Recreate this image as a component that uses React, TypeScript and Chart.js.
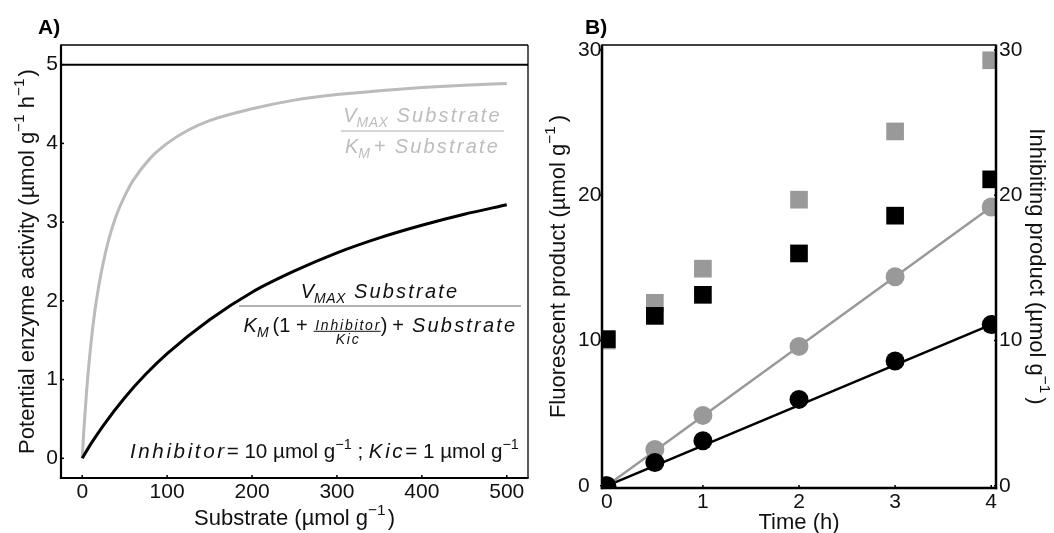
import React, { useEffect, useRef } from 'react';
import { Chart, registerables } from 'chart.js';

Chart.register(...registerables);

const FONT = '"Liberation Sans", Arial, Helvetica, sans-serif';

// ---------- Panel A data ----------
const substrateFree = [0, 2, 5, 10, 15, 20, 30, 40, 50, 60, 80, 100, 125, 150, 200, 250, 300, 350, 400, 450, 500];
const activityFree = [0, 0.37, 0.83, 1.43, 1.88, 2.22, 2.73, 3.08, 3.33, 3.53, 3.81, 4.0, 4.17, 4.29, 4.44, 4.55, 4.62, 4.67, 4.71, 4.74, 4.76];
const substrateInhibited = [0, 10, 25, 50, 75, 100, 150, 200, 250, 300, 350, 400, 450, 500];
const activityInhibited = [0, 0.18, 0.42, 0.77, 1.07, 1.33, 1.76, 2.11, 2.38, 2.61, 2.8, 2.96, 3.1, 3.22];
const vmaxSubstrate = [-25, 525];
const vmaxActivity = [5, 5];
const substrateTicks = [0, 100, 200, 300, 400, 500];
const activityTicks = [0, 1, 2, 3, 4, 5];

// ---------- Panel B data ----------
const time = [0, 0.5, 1, 2, 3, 4];
const fluorescentFree = [0, 2.5, 4.85, 9.6, 14.4, 19.2];
const fluorescentInhibited = [0, 1.6, 3.1, 5.95, 8.6, 11.1];
const inhibitingFree = [10, 12.6, 14.95, 19.7, 24.4, 29.3];
const inhibitingInhibited = [10.1, 11.7, 13.15, 16.0, 18.6, 21.1];
const fitTime = [0, 4];
const fitFree = [0, 19.2];
const fitInhibited = [0, 11.1];
const timeTicks = [0, 1, 2, 3, 4];
const productTicks = [0, 10, 20, 30];

const pts = (xs: number[], ys: number[]) => xs.map((x, i) => ({ x, y: ys[i] }));

// ---------- rich text helpers ----------
type Seg = { t?: string; it?: boolean; b?: boolean; sup?: boolean; sub?: boolean; ls?: number; gap?: number; frac?: [string, string] };

const fontFor = (size: number, it?: boolean, b?: boolean) => `${it ? 'italic ' : ''}${b ? 'bold ' : ''}${size}px ${FONT}`;
const FRAC = 0.7;

function segWidth(ctx: any, s: Seg, size: number) {
  if (s.gap !== undefined) return s.gap;
  if (s.frac) {
    ctx.font = fontFor(size * FRAC, true);
    ctx.letterSpacing = '1.8px';
    return Math.max(ctx.measureText(s.frac[0]).width, ctx.measureText(s.frac[1]).width) + 1;
  }
  const fs = s.sup || s.sub ? size * 0.7 : size;
  ctx.font = fontFor(fs, s.it, s.b);
  ctx.letterSpacing = (s.ls ?? 0) + 'px';
  return ctx.measureText(s.t || '').width;
}

function drawRich(ctx: any, segs: Seg[], x: number, y: number, size: number, align: string, color: string) {
  const ws = segs.map((s) => segWidth(ctx, s, size));
  const total = ws.reduce((a, b) => a + b, 0);
  let cx = align === 'left' ? x : align === 'center' ? x - total / 2 : x - total;
  ctx.fillStyle = color;
  ctx.textAlign = 'left';
  ctx.textBaseline = 'alphabetic';
  segs.forEach((s, i) => {
    if (s.frac) {
      ctx.font = fontFor(size * FRAC, true);
      ctx.letterSpacing = '1.8px';
      const w = ws[i];
      const n = ctx.measureText(s.frac[0]).width;
      const d = ctx.measureText(s.frac[1]).width;
      ctx.fillText(s.frac[0], cx + (w - n) / 2 + 1, y - 2.5);
      ctx.fillRect(cx, y - 1.2, w, 1);
      ctx.fillText(s.frac[1], cx + (w - d) / 2 + 1, y + 12);
    } else if (s.t) {
      const fs = s.sup || s.sub ? size * 0.7 : size;
      ctx.font = fontFor(fs, s.it, s.b);
      ctx.letterSpacing = (s.ls ?? 0) + 'px';
      const dy = s.sup ? -size * 0.45 : s.sub ? size * 0.25 : 0;
      ctx.fillText(s.t, cx, y + dy);
    }
    cx += ws[i];
  });
  ctx.letterSpacing = '0px';
}

function seg(ctx: any, x1: number, y1: number, x2: number, y2: number, w: number, color = '#000') {
  ctx.beginPath();
  ctx.lineWidth = w;
  ctx.strokeStyle = color;
  ctx.moveTo(x1, y1);
  ctx.lineTo(x2, y2);
  ctx.stroke();
}

const TICK = '#111';
const LS = 2.2;

const numer: Seg[] = [{ t: 'V', it: true }, { t: 'MAX', it: true, sub: true, ls: 0.5 }, { gap: 8 }, { t: 'Substrate', it: true, ls: LS }];

const panelAPlugin = {
  id: 'panelA',
  afterDraw(chart: any) {
    const ctx = chart.ctx;
    const a = chart.chartArea;
    const xs = chart.scales.x;
    const ys = chart.scales.y;
    ctx.save();
    // frame
    seg(ctx, a.left, a.top, a.right, a.top, 1.3);
    seg(ctx, a.right, a.top, a.right, a.bottom, 1.3);
    seg(ctx, a.left, a.top - 0.6, a.left, a.bottom + 1.1, 2.2);
    seg(ctx, a.left - 1.1, a.bottom, a.right + 0.6, a.bottom, 2.2);
    // small tick marks
    substrateTicks.forEach((v) => { const px = xs.getPixelForValue(v); seg(ctx, px, a.bottom, px, a.bottom - 3, 1.5); });
    activityTicks.forEach((v) => { const py = ys.getPixelForValue(v); seg(ctx, a.left, py, a.left + 3, py, 1.5); });
    // panel label
    drawRich(ctx, [{ t: 'A)', b: true }], 38, 34, 21, 'left', '#000');
    // axis titles
    ctx.save();
    ctx.translate(34, (a.top + a.bottom) / 2);
    ctx.rotate(-Math.PI / 2);
    drawRich(ctx, [{ t: 'Potential enzyme activity (µmol g' }, { t: '−1', sup: true }, { t: ' h' }, { t: '−1', sup: true }, { gap: 2 }, { t: ')' }], 0, 0, 22, 'center', '#111');
    ctx.restore();
    drawRich(ctx, [{ t: 'Substrate (µmol g' }, { t: '−1', sup: true }, { gap: 2 }, { t: ')' }], (a.left + a.right) / 2, 525, 22, 'center', '#111');
    // gray equation (no inhibitor)
    const g = '#bdbdbd';
    drawRich(ctx, numer, 422.5, 122, 20, 'center', g);
    seg(ctx, 341, 131, 504, 131, 1.5, '#c8c8c8');
    drawRich(ctx, [{ t: 'K', it: true }, { t: 'M', it: true, sub: true }, { gap: 4 }, { t: '+' }, { gap: 9 }, { t: 'Substrate', it: true, ls: LS }], 422.5, 153, 20, 'center', g);
    // black equation (with inhibitor)
    drawRich(ctx, numer, 380, 298, 20, 'center', '#111');
    seg(ctx, 239, 306, 521, 306, 1.5, '#999');
    drawRich(ctx, [
      { t: 'K', it: true }, { t: 'M', it: true, sub: true }, { gap: 4 }, { t: '(1 +' }, { gap: 6 },
      { frac: ['Inhibitor', 'Kic'] }, { t: ')' }, { gap: 5 }, { t: '+' }, { gap: 8 }, { t: 'Substrate', it: true, ls: LS },
    ], 380.5, 332, 20, 'center', '#111');
    // condition text
    drawRich(ctx, [
      { t: 'Inhibitor', it: true, ls: 2.6 }, { t: '= 10 µmol g' }, { t: '−1', sup: true }, { t: ' ; ' },
      { t: 'Kic', it: true, ls: 2.6 }, { t: '= 1 µmol g' }, { t: '−1', sup: true },
    ], 130, 458, 20.6, 'left', '#111');
    ctx.restore();
  },
};

const panelBPlugin = {
  id: 'panelB',
  afterDraw(chart: any) {
    const ctx = chart.ctx;
    const a = chart.chartArea;
    const xs = chart.scales.x;
    const ys = chart.scales.y;
    ctx.save();
    seg(ctx, a.left, a.top, a.right, a.top, 1.3);
    seg(ctx, a.right, a.top - 0.6, a.right, a.bottom + 1.2, 2.5);
    seg(ctx, a.left, a.top - 0.6, a.left, a.bottom + 1.2, 2.5);
    seg(ctx, a.left - 1.2, a.bottom, a.right + 1.2, a.bottom, 2.5);
    timeTicks.forEach((v) => { const px = xs.getPixelForValue(v); seg(ctx, px, a.bottom, px, a.bottom - 3, 1.5); });
    productTicks.forEach((v) => { const py = ys.getPixelForValue(v); seg(ctx, a.left - 2, py, a.left, py, 1.5); seg(ctx, a.right, py, a.right - 2, py, 1.5); });
    drawRich(ctx, [{ t: 'B)', b: true }], 45, 34, 21, 'left', '#000');
    const cy = (a.top + a.bottom) / 2;
    ctx.save();
    ctx.translate(25, cy);
    ctx.rotate(-Math.PI / 2);
    drawRich(ctx, [{ t: 'Fluorescent product (µmol g' }, { t: '−1', sup: true }, { gap: 4 }, { t: ')' }], 0, 0, 22, 'center', '#111');
    ctx.restore();
    ctx.save();
    ctx.translate(490, cy);
    ctx.rotate(Math.PI / 2);
    drawRich(ctx, [{ t: 'Inhibiting product (µmol g' }, { t: '−1', sup: true }, { gap: 4 }, { t: ')' }], 0, 0, 22, 'center', '#111');
    ctx.restore();
    drawRich(ctx, [{ t: 'Time (h)' }], (a.left + a.right) / 2, 529, 22, 'center', '#111');
    ctx.restore();
  },
};

const tickFont = { family: FONT, size: 21 };

function fixTicks(values: number[]) {
  return (scale: any) => {
    scale.ticks = values.map((v) => ({ value: v }));
  };
}

function ChartA() {
  const ref = useRef<HTMLCanvasElement>(null);
  useEffect(() => {
    const chart = new Chart(ref.current as HTMLCanvasElement, {
      type: 'scatter',
      data: {
        datasets: [
          { data: pts(substrateInhibited, activityInhibited), showLine: true, borderColor: '#000', borderWidth: 3, pointRadius: 0, cubicInterpolationMode: 'monotone', order: 1 } as any,
          { data: pts(substrateFree, activityFree), showLine: true, borderColor: '#bbbbbb', borderWidth: 3, pointRadius: 0, cubicInterpolationMode: 'monotone', order: 2 } as any,
          { data: pts(vmaxSubstrate, vmaxActivity), showLine: true, borderColor: '#000', borderWidth: 2, pointRadius: 0, order: 3 } as any,
        ],
      },
      options: {
        animation: false,
        responsive: false,
        layout: { padding: { left: 0, top: 45, right: 12, bottom: 0 } },
        plugins: { legend: { display: false }, tooltip: { enabled: false } },
        scales: {
          x: {
            type: 'linear', min: -25, max: 525,
            afterBuildTicks: fixTicks(substrateTicks),
            afterFit: (s: any) => { s.height = 55; },
            grid: { display: false, drawTicks: false },
            border: { display: false },
            ticks: { font: tickFont, color: TICK, padding: 2, maxRotation: 0, callback: (v: any) => String(v) },
          },
          y: {
            type: 'linear', min: -0.25, max: 5.25,
            afterBuildTicks: fixTicks(activityTicks),
            afterFit: (s: any) => { s.width = 61; },
            grid: { display: false, drawTicks: false },
            border: { display: false },
            ticks: { font: tickFont, color: TICK, padding: 3, callback: (v: any) => String(v) },
          },
        },
      } as any,
      plugins: [panelAPlugin],
    });
    return () => chart.destroy();
  }, []);
  return <canvas ref={ref} width={540} height={533} style={{ position: 'absolute', left: 0, top: 0 }} />;
}

function ChartB() {
  const ref = useRef<HTMLCanvasElement>(null);
  useEffect(() => {
    const circ = (d: any, color: string, order: number) => ({ data: d, pointStyle: 'circle', pointRadius: 9.5, backgroundColor: color, borderWidth: 0, clip: 0, order });
    const sq = (d: any, color: string, order: number, axis: string) => ({ data: d, yAxisID: axis, pointStyle: 'rect', pointRadius: 12.5, backgroundColor: color, borderWidth: 0, clip: 0, order });
    const chart = new Chart(ref.current as HTMLCanvasElement, {
      type: 'scatter',
      data: {
        datasets: [
          circ(pts(time, fluorescentInhibited), '#000', 1),
          circ(pts(time, fluorescentFree), '#999999', 2),
          { data: pts(fitTime, fitInhibited), showLine: true, borderColor: '#000', borderWidth: 2.5, pointRadius: 0, clip: 0, order: 3 },
          { data: pts(fitTime, fitFree), showLine: true, borderColor: '#999999', borderWidth: 2.5, pointRadius: 0, clip: 0, order: 4 },
          sq(pts(time, inhibitingInhibited), '#000', 5, 'yR'),
          sq(pts(time, inhibitingFree), '#999999', 6, 'yR'),
        ] as any,
      },
      options: {
        animation: false,
        responsive: false,
        layout: { padding: { left: 38, top: 45, right: 0, bottom: 0 } },
        plugins: { legend: { display: false }, tooltip: { enabled: false } },
        scales: {
          x: {
            type: 'linear', min: -0.05, max: 4.05,
            afterBuildTicks: fixTicks(timeTicks),
            afterFit: (s: any) => { s.height = 45; },
            grid: { display: false, drawTicks: false },
            border: { display: false },
            ticks: { font: tickFont, color: TICK, padding: 2, maxRotation: 0, callback: (v: any) => String(v) },
          },
          y: {
            type: 'linear', position: 'left', min: -0.15, max: 30.35,
            afterBuildTicks: fixTicks(productTicks),
            afterFit: (s: any) => { s.width = 24; },
            grid: { display: false, drawTicks: false },
            border: { display: false },
            ticks: { font: tickFont, color: TICK, padding: 3, crossAlign: 'far', callback: (v: any) => String(v) },
          },
          yR: {
            type: 'linear', position: 'right', min: -0.15, max: 30.35,
            afterBuildTicks: fixTicks(productTicks),
            afterFit: (s: any) => { s.width = 58; },
            grid: { display: false, drawTicks: false },
            border: { display: false },
            ticks: { font: tickFont, color: TICK, padding: 3, callback: (v: any) => String(v) },
          },
        },
      } as any,
      plugins: [panelBPlugin],
    });
    return () => chart.destroy();
  }, []);
  return <canvas ref={ref} width={514} height={533} style={{ position: 'absolute', left: 540, top: 0 }} />;
}

export default function App() {
  return (
    <div style={{ position: 'absolute', left: 0, top: 0, width: 1054, height: 533, background: '#fff' }}>
      <ChartA />
      <ChartB />
    </div>
  );
}
